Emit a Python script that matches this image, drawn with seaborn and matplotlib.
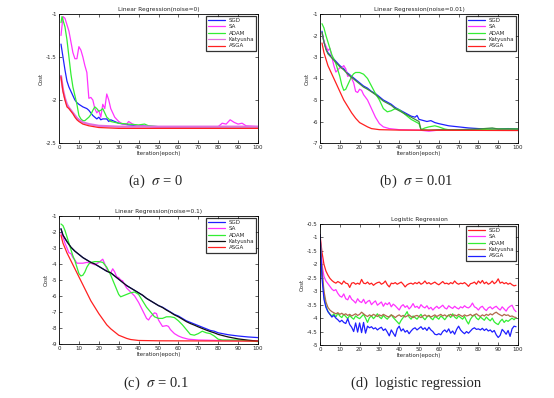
import matplotlib
matplotlib.use("Agg")
import matplotlib.pyplot as plt
import seaborn as sns
import numpy as np

# ---------------- data ----------------
methods = ["SGD", "SA", "ADAM", "Katyusha", "ASGA"]

# (a) noise = 0
a_sgd_x = [1, 2, 3, 4, 5, 6, 7, 8, 9, 10, 12, 14, 15, 16, 17, 18, 19, 20, 21, 22, 24, 25, 26, 28, 30, 35, 40, 50, 100]
a_sgd_y = [-1.35, -1.5, -1.65, -1.78, -1.85, -1.9, -1.95, -2.0, -2.03, -2.05, -2.08, -2.1, -2.12, -2.15, -2.18, -2.2, -2.22, -2.2, -2.23, -2.22, -2.22, -2.25, -2.23, -2.25, -2.27, -2.29, -2.3, -2.31, -2.31]
a_sa_x = [1, 2, 3, 5, 7, 8, 9, 10, 11, 12, 13, 14, 15, 16, 17, 18, 19, 20, 21, 22, 23, 24, 25, 26, 27, 28, 30, 32, 34, 35, 37, 40, 45, 50, 80, 82, 84, 86, 88, 90, 92, 94, 100]
a_sa_y = [-1.25, -1.03, -1.05, -1.2, -1.45, -1.52, -1.52, -1.38, -1.42, -1.5, -1.6, -1.68, -1.98, -1.97, -2.0, -2.1, -2.15, -2.12, -2.2, -2.05, -2.1, -1.93, -2.0, -2.1, -2.15, -2.2, -2.25, -2.28, -2.28, -2.25, -2.28, -2.3, -2.31, -2.32, -2.31, -2.27, -2.28, -2.23, -2.26, -2.28, -2.27, -2.3, -2.31]
a_adam_x = [1, 1.5, 3, 4, 5, 6, 7, 8, 9, 10, 11, 12, 13, 14, 15, 16, 17, 18, 19, 20, 21, 22, 23, 24, 25, 26, 28, 30, 35, 40, 43, 45, 50, 100]
a_adam_y = [-1.1, -1.03, -1.15, -1.3, -1.5, -1.7, -1.85, -1.95, -2.05, -2.18, -2.22, -2.24, -2.24, -2.22, -2.2, -2.17, -2.12, -2.08, -2.1, -2.13, -2.12, -2.1, -2.15, -2.2, -2.22, -2.25, -2.26, -2.27, -2.28, -2.29, -2.28, -2.3, -2.31, -2.31]
a_kat_x = [1, 2, 3, 4, 5, 6, 7, 8, 9, 10, 12, 15, 20, 30, 100]
a_kat_y = [-1.72, -1.88, -1.98, -2.05, -2.09, -2.12, -2.15, -2.18, -2.21, -2.23, -2.26, -2.28, -2.3, -2.31, -2.31]
a_asga_x = [1, 2, 3, 4, 5, 6, 7, 8, 9, 10, 12, 15, 20, 30, 100]
a_asga_y = [-1.73, -1.9, -2.0, -2.08, -2.1, -2.13, -2.16, -2.2, -2.23, -2.25, -2.28, -2.3, -2.32, -2.33, -2.33]

# (b) noise = 0.01
b_sgd_x = [1, 2, 3, 4, 5, 6, 8, 10, 12, 14, 16, 18, 20, 22, 24, 26, 28, 30, 32, 34, 36, 38, 40, 42, 44, 46, 48, 49, 50, 52, 54, 56, 58, 60, 65, 70, 75, 80, 85, 90, 95, 100]
b_sgd_y = [-1.8, -2.3, -2.6, -2.8, -2.9, -3.0, -3.2, -3.4, -3.55, -3.75, -3.9, -4.05, -4.2, -4.35, -4.45, -4.6, -4.7, -4.85, -5.0, -5.1, -5.2, -5.35, -5.45, -5.55, -5.65, -5.75, -5.8, -5.72, -5.9, -5.95, -6.0, -5.96, -6.05, -6.1, -6.2, -6.25, -6.3, -6.33, -6.35, -6.35, -6.33, -6.35]
b_sa_x = [1, 2, 3, 4, 5, 6, 7, 8, 9, 10, 11, 12, 13, 14, 15, 16, 17, 18, 19, 20, 21, 22, 24, 26, 28, 30, 32, 35, 40, 50, 55, 60, 100]
b_sa_y = [-1.9, -2.3, -2.5, -2.7, -2.6, -3.0, -3.4, -3.7, -3.6, -3.5, -3.5, -3.4, -3.55, -3.9, -3.85, -4.0, -4.2, -4.6, -4.65, -4.5, -4.55, -4.75, -5.0, -5.4, -5.8, -6.1, -6.25, -6.33, -6.38, -6.4, -6.45, -6.4, -6.4]
b_adam_x = [1, 2, 3, 4, 5, 6, 8, 10, 11, 12, 13, 14, 15, 16, 17, 18, 20, 22, 24, 26, 28, 30, 32, 34, 36, 38, 40, 42, 44, 46, 48, 50, 51, 53, 55, 58, 60, 63, 66, 70, 80, 90, 100]
b_adam_y = [-1.45, -1.65, -2.0, -2.3, -2.6, -2.9, -3.3, -3.9, -4.3, -4.55, -4.5, -4.3, -4.1, -3.9, -3.78, -3.72, -3.72, -3.8, -4.0, -4.35, -4.7, -5.0, -5.4, -5.55, -5.5, -5.4, -5.45, -5.6, -5.75, -5.9, -6.0, -6.1, -6.38, -6.3, -6.25, -6.2, -6.25, -6.35, -6.4, -6.4, -6.38, -6.35, -6.35]
b_kat_x = [1, 2, 3, 4, 5, 6, 8, 10, 12, 14, 16, 18, 20, 22, 24, 26, 28, 30, 32, 34, 36, 38, 40, 42, 45, 48, 50, 51, 55, 60, 70, 80, 87, 90, 100]
b_kat_y = [-1.85, -2.3, -2.65, -2.85, -2.95, -3.05, -3.25, -3.45, -3.6, -3.8, -3.95, -4.1, -4.25, -4.4, -4.5, -4.62, -4.75, -4.9, -5.05, -5.15, -5.25, -5.4, -5.5, -5.6, -5.75, -5.9, -6.0, -6.38, -6.4, -6.38, -6.38, -6.35, -6.3, -6.35, -6.35]
b_asga_x = [1, 2, 3, 4, 5, 6, 8, 10, 12, 14, 16, 18, 20, 22, 24, 26, 30, 40, 100]
b_asga_y = [-2.35, -2.8, -3.1, -3.4, -3.6, -3.8, -4.2, -4.6, -5.0, -5.3, -5.6, -5.85, -6.05, -6.15, -6.25, -6.33, -6.38, -6.4, -6.42]

# (c) noise = 0.1
c_sgd_x = [1, 2, 4, 6, 8, 10, 12, 14, 16, 18, 20, 22, 24, 26, 28, 30, 32, 34, 36, 38, 40, 42, 44, 46, 48, 50, 52, 54, 56, 58, 60, 62, 64, 66, 68, 70, 72, 74, 76, 78, 80, 85, 90, 95, 100]
c_sgd_y = [-1.8, -2.2, -2.6, -2.95, -3.2, -3.4, -3.6, -3.75, -3.9, -4.0, -4.15, -4.3, -4.45, -4.55, -4.75, -4.95, -5.15, -5.35, -5.5, -5.65, -5.8, -5.95, -6.15, -6.3, -6.45, -6.6, -6.7, -6.85, -7.0, -7.15, -7.25, -7.4, -7.55, -7.65, -7.75, -7.85, -7.95, -8.05, -8.15, -8.2, -8.3, -8.42, -8.5, -8.56, -8.6]
c_sa_x = [1, 2, 3, 4, 5, 6, 7, 8, 9, 10, 12, 14, 16, 18, 20, 21, 22, 23, 24, 25, 26, 27, 28, 29, 30, 31, 32, 33, 34, 36, 38, 40, 42, 44, 45, 46, 48, 49, 50, 52, 54, 55, 56, 58, 60, 62, 65, 70, 80, 100]
c_sa_y = [-2.1, -2.3, -2.7, -3.0, -3.3, -3.35, -3.6, -3.75, -3.95, -3.95, -3.95, -3.9, -3.95, -4.05, -3.9, -3.8, -3.7, -4.0, -4.3, -4.5, -4.55, -4.3, -4.5, -4.8, -4.85, -5.0, -5.05, -5.3, -5.5, -5.75, -6.0, -6.4, -6.9, -7.4, -7.5, -7.3, -7.05, -7.1, -7.5, -7.9, -7.85, -7.9, -8.1, -8.35, -8.5, -8.6, -8.7, -8.75, -8.78, -8.8]
c_adam_x = [1, 2, 3, 4, 5, 6, 7, 8, 9, 10, 11, 12, 13, 14, 15, 16, 18, 20, 22, 24, 26, 28, 30, 31, 32, 34, 36, 38, 40, 42, 44, 46, 48, 50, 52, 54, 56, 58, 60, 62, 64, 66, 68, 70, 72, 74, 76, 78, 80, 82, 85, 90, 95, 100]
c_adam_y = [-1.5, -1.6, -1.9, -2.3, -2.7, -3.1, -3.5, -3.8, -4.2, -4.6, -4.75, -4.7, -4.5, -4.2, -4.0, -3.9, -3.85, -3.85, -3.9, -4.2, -4.7, -5.3, -5.9, -6.05, -6.0, -5.9, -5.8, -5.75, -5.9, -6.3, -6.7, -7.0, -7.3, -7.4, -7.4, -7.3, -7.3, -7.35, -7.55, -7.8, -8.1, -8.4, -8.45, -8.35, -8.2, -8.3, -8.35, -8.5, -8.7, -8.75, -8.75, -8.75, -8.8, -8.85]
c_kat_x = [1, 2, 4, 6, 8, 10, 12, 14, 16, 18, 20, 22, 24, 26, 28, 30, 32, 34, 36, 38, 40, 42, 44, 46, 48, 50, 52, 54, 56, 58, 60, 62, 64, 66, 68, 70, 72, 74, 76, 78, 80, 85, 90, 95, 100]
c_kat_y = [-1.8, -2.2, -2.6, -2.95, -3.2, -3.4, -3.6, -3.75, -3.9, -4.0, -4.15, -4.3, -4.45, -4.55, -4.75, -4.95, -5.15, -5.35, -5.5, -5.65, -5.8, -5.95, -6.15, -6.3, -6.45, -6.6, -6.72, -6.88, -7.02, -7.18, -7.3, -7.45, -7.6, -7.72, -7.82, -7.93, -8.03, -8.13, -8.22, -8.3, -8.4, -8.56, -8.68, -8.76, -8.82]
c_asga_x = [1, 2, 4, 6, 8, 10, 12, 14, 16, 18, 20, 22, 24, 26, 28, 30, 32, 34, 36, 40, 50, 100]
c_asga_y = [-2.2, -2.7, -3.3, -3.8, -4.3, -4.8, -5.3, -5.8, -6.3, -6.7, -7.1, -7.45, -7.8, -8.05, -8.25, -8.45, -8.55, -8.65, -8.72, -8.78, -8.8, -8.82]

# (d) logistic regression, epochs 0..99
d_x = list(range(100))
d_sgd = [-0.90, -1.55, -2.00, -2.25, -2.40, -2.52, -2.60, -2.66, -2.70, -2.64,
         -2.68, -2.74, -2.62, -2.70, -2.72, -2.86, -2.70, -2.68, -2.74, -2.70,
         -2.74, -2.56, -2.70, -2.72, -2.66, -2.74, -2.70, -2.78, -2.72, -2.68,
         -2.66, -2.74, -2.70, -2.62, -2.76, -2.84, -2.70, -2.72, -2.68, -2.74,
         -2.70, -2.66, -2.74, -2.84, -2.76, -2.72, -2.70, -2.74, -2.68, -2.72,
         -2.66, -2.74, -2.70, -2.62, -2.72, -2.68, -2.74, -2.70, -2.66, -2.72,
         -2.76, -2.70, -2.64, -2.72, -2.70, -2.74, -2.68, -2.72, -2.62, -2.70,
         -2.74, -2.70, -2.72, -2.68, -2.74, -2.82, -2.72, -2.70, -2.66, -2.74,
         -2.62, -2.70, -2.60, -2.72, -2.66, -2.74, -2.70, -2.62, -2.72, -2.66,
         -2.54, -2.70, -2.66, -2.72, -2.68, -2.74, -2.70, -2.76, -2.80, -2.78]
d_sa = [-0.90, -2.00, -2.45, -2.62, -2.72, -2.82, -2.92, -2.98, -2.94, -3.08,
        -3.18, -3.22, -3.10, -3.28, -3.32, -3.16, -3.30, -3.36, -3.44, -3.28,
        -3.38, -3.42, -3.30, -3.46, -3.38, -3.34, -3.50, -3.42, -3.36, -3.52,
        -3.46, -3.40, -3.56, -3.44, -3.50, -3.42, -3.58, -3.48, -3.54, -3.62,
        -3.70, -3.56, -3.50, -3.60, -3.54, -3.66, -3.58, -3.46, -3.60, -3.56,
        -3.64, -3.50, -3.58, -3.62, -3.54, -3.66, -3.60, -3.70, -3.62, -3.56,
        -3.64, -3.58, -3.52, -3.62, -3.66, -3.54, -3.60, -3.64, -3.56, -3.62,
        -3.66, -3.58, -3.62, -3.54, -3.60, -3.62, -3.56, -3.44, -3.58, -3.62,
        -3.70, -3.60, -3.56, -3.66, -3.72, -3.62, -3.58, -3.66, -3.60, -3.56,
        -3.64, -3.70, -3.58, -3.66, -3.74, -3.62, -3.56, -3.52, -3.68, -3.76]
d_adam = [-0.90, -2.30, -3.15, -3.55, -3.75, -3.85, -3.92, -3.84, -3.96, -3.82,
          -3.92, -3.98, -3.86, -3.94, -4.02, -3.90, -3.98, -4.04, -3.92, -3.98,
          -4.02, -3.94, -3.86, -4.00, -4.16, -3.98, -3.92, -4.02, -3.94, -3.84,
          -3.96, -4.02, -3.90, -3.98, -4.04, -3.94, -3.88, -3.98, -4.06, -4.14,
          -4.22, -4.08, -3.98, -3.88, -3.76, -3.96, -4.04, -3.92, -3.98, -4.04,
          -3.94, -3.86, -3.98, -4.06, -3.96, -3.90, -4.00, -4.06, -3.94, -3.98,
          -4.04, -3.92, -3.98, -4.06, -3.96, -3.88, -3.98, -3.84, -3.96, -4.02,
          -3.92, -3.98, -4.04, -3.94, -4.10, -4.22, -4.04, -3.94, -3.88, -4.00,
          -4.06, -3.96, -4.02, -4.08, -3.96, -4.04, -4.10, -4.00, -4.14, -4.20,
          -4.24, -4.12, -4.04, -4.16, -4.08, -4.12, -4.06, -4.00, -4.06, -3.98]
d_kat = [-0.90, -2.20, -3.00, -3.40, -3.60, -3.70, -3.76, -3.80, -3.84, -3.80,
         -3.86, -3.82, -3.88, -3.84, -3.90, -3.86, -3.92, -3.88, -3.84, -3.90,
         -3.86, -3.78, -3.84, -3.90, -3.94, -3.88, -3.92, -3.86, -3.90, -3.94,
         -3.88, -3.92, -3.86, -3.90, -3.94, -3.96, -3.88, -3.92, -3.98, -3.92,
         -3.88, -3.94, -3.90, -3.96, -3.92, -3.88, -3.94, -3.98, -3.92, -3.90,
         -3.94, -3.98, -3.92, -3.88, -3.94, -3.90, -3.96, -3.92, -3.88, -3.94,
         -3.90, -3.86, -3.92, -3.88, -3.94, -3.90, -3.86, -3.92, -3.88, -3.92,
         -3.86, -3.90, -3.94, -3.88, -3.92, -3.90, -3.86, -3.92, -3.88, -3.84,
         -3.90, -3.94, -3.88, -3.92, -3.86, -3.90, -3.84, -3.88, -3.82, -3.78,
         -3.84, -3.88, -3.92, -3.86, -3.90, -3.88, -3.94, -3.92, -3.96, -3.98]
d_asga = [-0.90, -2.50, -3.30, -3.60, -3.76, -3.86, -3.96, -3.90, -4.00, -4.06,
          -4.14, -4.08, -4.16, -4.20, -4.02, -4.24, -4.34, -4.50, -4.18, -4.52,
          -4.18, -4.54, -4.16, -4.56, -4.30, -4.36, -4.32, -4.40, -4.36, -4.44,
          -4.38, -4.34, -4.46, -4.40, -4.52, -4.66, -4.44, -4.56, -4.68, -4.40,
          -4.30, -4.48, -4.40, -4.52, -4.46, -4.58, -4.48, -4.40, -4.36, -4.44,
          -4.38, -4.32, -4.42, -4.36, -4.46, -4.34, -4.44, -4.50, -4.60, -4.62,
          -4.58, -4.62, -4.50, -4.44, -4.52, -4.40, -4.56, -4.48, -4.60, -4.42,
          -4.30, -4.44, -4.52, -4.58, -4.50, -4.56, -4.48, -4.40, -4.36, -4.42,
          -4.40, -4.44, -4.38, -4.46, -4.40, -4.48, -4.44, -4.52, -4.46, -4.62,
          -4.72, -4.64, -4.42, -4.50, -4.60, -4.46, -4.68, -4.40, -4.30, -4.32]

titles = ["Linear Regression(noise=0)", "Linear Regression(noise=0.01)",
          "Linear Regression(noise=0.1)", "Logistic Regression"]
captions = ["(a)  $\\sigma$ = 0", "(b)  $\\sigma$ = 0.01", "(c)  $\\sigma$ = 0.1", "(d)  logistic regression"]
yticks_a = [-1, -1.5, -2, -2.5]
yticks_b = [-1, -2, -3, -4, -5, -6, -7]
yticks_c = [-1, -2, -3, -4, -5, -6, -7, -8, -9]
yticks_d = [-0.5, -1, -1.5, -2, -2.5, -3, -3.5, -4, -4.5, -5]
xticks = [0, 10, 20, 30, 40, 50, 60, 70, 80, 90, 100]

# ---------------- style ----------------
sns.set_style("white")
plt.rcParams["font.family"] = ["DejaVu Sans"]
plt.rcParams["mathtext.fontset"] = "stix"

W, H = 554, 398
fig = plt.figure(figsize=(W / 100, H / 100), dpi=100)

def rect(l, r, t, b):
    return [l / W, 1 - b / H, (r - l) / W, (b - t) / H]

BLUE = "#1f1fff"
MAG = "#ff33ff"
GRN = "#33ee33"
RED = "#ff2020"

panels = [
    dict(r=rect(59, 258, 14, 143), ylim=(-2.5, -1), yt=yticks_a, xlim=(0, 100),
         series=[(a_sgd_x, a_sgd_y, BLUE, 0.9), (a_sa_x, a_sa_y, MAG, 0.9),
                 (a_adam_x, a_adam_y, GRN, 0.9), (a_kat_x, a_kat_y, "#e070e0", 1.6),
                 (a_asga_x, a_asga_y, RED, 0.9)]),
    dict(r=rect(320, 518, 14, 143), ylim=(-7, -1), yt=yticks_b, xlim=(0, 100),
         series=[(b_sgd_x, b_sgd_y, BLUE, 0.9), (b_sa_x, b_sa_y, MAG, 0.9),
                 (b_adam_x, b_adam_y, GRN, 0.9), (b_kat_x, b_kat_y, "#3c8f3c", 0.9),
                 (b_asga_x, b_asga_y, RED, 0.9)]),
    dict(r=rect(59, 258, 216, 344), ylim=(-9, -1), yt=yticks_c, xlim=(0, 100),
         series=[(c_sgd_x, c_sgd_y, BLUE, 0.9), (c_sa_x, c_sa_y, MAG, 0.9),
                 (c_adam_x, c_adam_y, GRN, 0.9), (c_kat_x, c_kat_y, "#111111", 0.9),
                 (c_asga_x, c_asga_y, RED, 0.9)]),
    dict(r=rect(320, 518, 224, 345), ylim=(-5, -0.5), yt=yticks_d, xlim=(0, 100),
         series=[(d_x, d_sgd, RED, 0.9), (d_x, d_sa, MAG, 0.9),
                 (d_x, d_adam, GRN, 0.9), (d_x, d_kat, "#b06a4a", 0.9),
                 (d_x, d_asga, BLUE, 0.9)]),
]

cap_pos = [(156, 181), (416, 181), (156, 383), (416, 383)]

for i, p in enumerate(panels):
    ax = fig.add_axes(p["r"])
    for name, (xs, ys, col, lw) in zip(methods, p["series"]):
        sns.lineplot(x=xs, y=ys, ax=ax, color=col, linewidth=lw, label=name,
                     estimator=None, sort=False)
    ax.set_xlim(*p["xlim"])
    ax.set_ylim(*p["ylim"])
    ax.set_xticks(xticks)
    ax.set_yticks(p["yt"])
    ax.set_yticklabels([("%g" % v) for v in p["yt"]])
    ax.tick_params(direction="in", length=2, width=0.5, labelsize=4, pad=1.5,
                   top=True, right=True, bottom=True, left=True)
    for s in ax.spines.values():
        s.set_color("black")
        s.set_linewidth(0.6)
    ax.set_title(titles[i], fontsize=4.2, pad=2)
    ax.set_xlabel("Iteration(epoch)", fontsize=4, labelpad=1)
    ax.set_ylabel("Cost", fontsize=4, labelpad=2)
    leg = ax.legend(loc="upper right", fontsize=4, frameon=True, fancybox=False,
                    handlelength=3.0, handletextpad=0.6, borderpad=0.4,
                    labelspacing=0.25, borderaxespad=0.3)
    leg.get_frame().set_edgecolor("black")
    leg.get_frame().set_linewidth(0.9)
    for ln in leg.get_lines():
        ln.set_linewidth(0.9)
    cx, cy = cap_pos[i]
    fig.text(cx / W, 1 - cy / H, captions[i], ha="center", va="center",
             fontsize=10.5, family="Liberation Serif")

fig.savefig("out.png", dpi=100)
